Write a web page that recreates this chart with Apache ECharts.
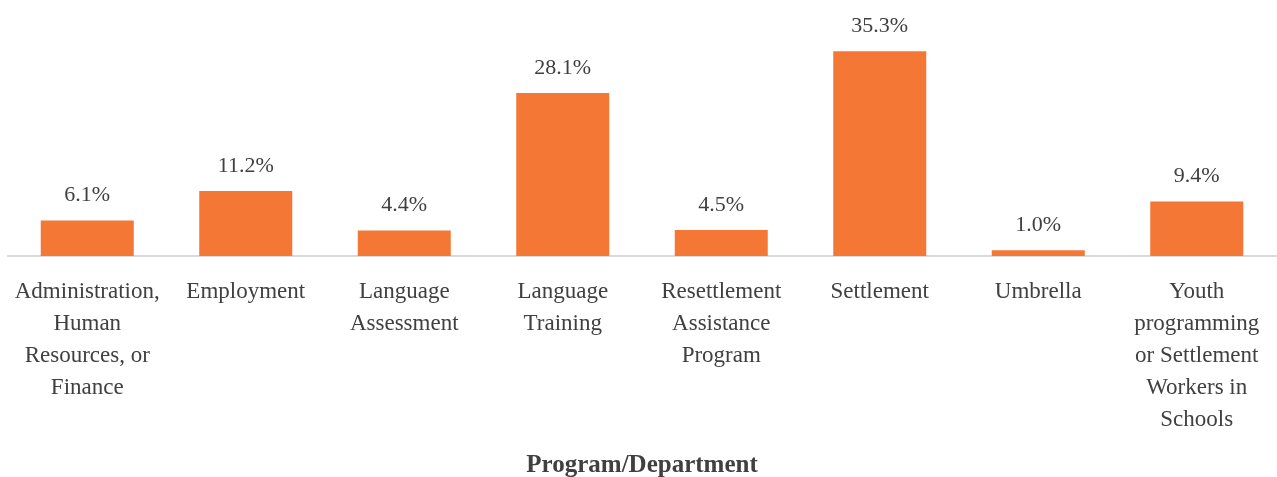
<!DOCTYPE html>
<html>
<head>
<meta charset="utf-8">
<script src="https://cdn.jsdelivr.net/npm/echarts@6/dist/echarts.min.js"></script>
<style>html,body{margin:0;padding:0;background:#fff;}#c{width:1277px;height:477px;}</style>
</head>
<body>
<div id="c"></div>
<script>
const categories = ["Administration, Human Resources, or Finance", "Employment", "Language Assessment", "Language Training", "Resettlement Assistance Program", "Settlement", "Umbrella", "Youth programming or Settlement Workers in Schools"];
const tickLabels = ["Administration,\nHuman\nResources, or\nFinance", "Employment", "Language\nAssessment", "Language\nTraining", "Resettlement\nAssistance\nProgram", "Settlement", "Umbrella", "Youth\nprogramming\nor Settlement\nWorkers in\nSchools"];
const values = [6.1, 11.2, 4.4, 28.1, 4.5, 35.3, 1.0, 9.4];
const axisTitle = "Program/Department";

const FONT = "'Liberation Serif', 'DejaVu Serif', serif";
const chart = echarts.init(document.getElementById('c'), null, {renderer: 'canvas'});
chart.setOption({
  animation: false,
  backgroundColor: '#ffffff',
  grid: {left: 8, right: 1, top: 24, bottom: 221, containLabel: false, outerBoundsMode: 'none'},
  xAxis: {
    type: 'category',
    data: categories,
    axisLine: {show: true, lineStyle: {color: '#d9d9d9', width: 2}},
    axisTick: {show: false},
    axisLabel: {
      interval: 0,
      margin: 20,
      color: '#404040',
      fontFamily: FONT,
      fontSize: 23,
      lineHeight: 32,
      formatter: function (v, i) { return tickLabels[i]; }
    },
    name: axisTitle,
    nameLocation: 'middle',
    nameGap: 197,
    nameTextStyle: {color: '#404040', fontFamily: FONT, fontSize: 25, fontWeight: 'bold'}
  },
  yAxis: {
    type: 'value', min: 0, max: 40, show: false,
    splitLine: {show: false}
  },
  series: [{
    type: 'bar',
    data: values,
    barWidth: 93,
    itemStyle: {color: '#F47735'},
    label: {
      show: true,
      position: 'top',
      distance: 14,
      color: '#404040',
      fontFamily: FONT,
      fontSize: 22,
      formatter: function (p) { return p.value.toFixed(1) + '%'; }
    }
  }]
});
</script>
</body>
</html>
